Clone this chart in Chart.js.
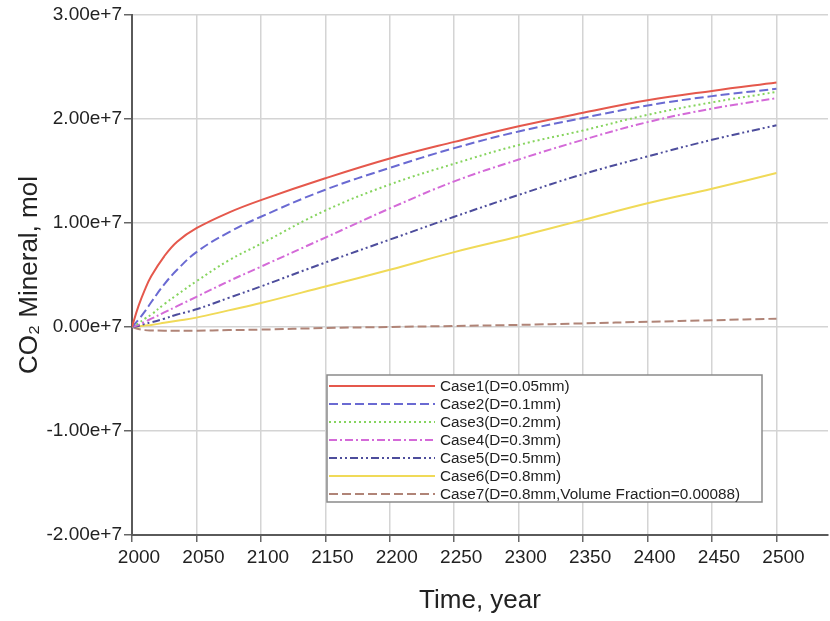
<!DOCTYPE html>
<html lang="en">
<head>
  <meta charset="UTF-8">
  <title>CO2 Mineral</title>
  <script src="https://cdn.jsdelivr.net/npm/chart.js"></script>
  <style>
    html, body { margin: 0; padding: 0; background: #fff; }
    #wrap { width: 830px; height: 621px; }
  </style>
</head>
<body>
<div id="wrap"><canvas id="mineralChart" width="830" height="621"></canvas></div>
<script>
  // years sampled along each curve
  const years = [2000, 2005, 2010, 2015, 2025, 2035, 2050, 2075, 2100, 2150, 2200, 2250, 2300, 2350, 2400, 2450, 2500];

  // values in units of 1e7 mol
  const case1 = [0, 0.20, 0.36, 0.49, 0.68, 0.82, 0.95, 1.10, 1.22, 1.43, 1.62, 1.78, 1.93, 2.06, 2.18, 2.27, 2.35];
  const case2 = [0, 0.07, 0.15, 0.24, 0.41, 0.55, 0.72, 0.91, 1.06, 1.32, 1.53, 1.72, 1.88, 2.01, 2.13, 2.22, 2.29];
  const case3 = [0, 0.035, 0.08, 0.12, 0.22, 0.31, 0.44, 0.64, 0.80, 1.12, 1.37, 1.57, 1.75, 1.89, 2.04, 2.16, 2.26];
  const case4 = [0, 0.02, 0.05, 0.08, 0.14, 0.20, 0.29, 0.44, 0.58, 0.86, 1.14, 1.40, 1.61, 1.80, 1.97, 2.10, 2.20];
  const case5 = [0, 0.01, 0.03, 0.045, 0.08, 0.12, 0.17, 0.28, 0.39, 0.62, 0.84, 1.06, 1.27, 1.47, 1.64, 1.80, 1.94];
  const case6 = [0, 0.005, 0.015, 0.02, 0.04, 0.06, 0.09, 0.16, 0.23, 0.39, 0.55, 0.72, 0.87, 1.03, 1.19, 1.33, 1.48];
  const case7 = [0, -0.02, -0.03, -0.033, -0.035, -0.035, -0.035, -0.03, -0.025, -0.01, 0, 0.01, 0.02, 0.035, 0.05, 0.065, 0.08];

  const labels = [
    'Case1(D=0.05mm)',
    'Case2(D=0.1mm)',
    'Case3(D=0.2mm)',
    'Case4(D=0.3mm)',
    'Case5(D=0.5mm)',
    'Case6(D=0.8mm)',
    'Case7(D=0.8mm,Volume Fraction=0.00088)'
  ];
  const xTicks = [2000, 2050, 2100, 2150, 2200, 2250, 2300, 2350, 2400, 2450, 2500];
  const yTicks = [-2, -1, 0, 1, 2, 3];

  function toPoints(vals) {
    return vals.map((v, i) => ({ x: years[i], y: v * 1e7 }));
  }

  const styles = [
    { color: '#e5584c', dash: [] },
    { color: '#6a6ad2', dash: [9, 4] },
    { color: '#86d45e', dash: [2, 3] },
    { color: '#d46ad8', dash: [8, 3, 2, 3] },
    { color: '#4d4d9c', dash: [8, 3, 2, 3, 2, 3] },
    { color: '#f0da58', dash: [] },
    { color: '#b08477', dash: [9, 4] }
  ];

  const series = [case1, case2, case3, case4, case5, case6, case7];
  const datasets = series.map((vals, i) => ({
    label: labels[i],
    data: toPoints(vals),
    borderColor: styles[i].color,
    borderDash: styles[i].dash,
    borderWidth: 2,
    pointRadius: 0,
    fill: false,
    tension: 0.4
  }));

  const font = '"Liberation Sans", Arial, sans-serif';

  // legend box drawn inside the plot
  const boxLegend = {
    id: 'boxLegend',
    afterDatasetsDraw(chart) {
      const ctx = chart.ctx;
      const x0 = 327, y0 = 375, w = 435, h = 127;
      ctx.save();
      ctx.fillStyle = '#fff';
      ctx.fillRect(x0, y0, w, h);
      ctx.strokeStyle = '#8a8a8a';
      ctx.lineWidth = 1.5;
      ctx.strokeRect(x0, y0, w, h);
      ctx.font = '15.3px ' + font;
      ctx.textBaseline = 'middle';
      chart.data.datasets.forEach((ds, i) => {
        const y = 386 + i * 18;
        ctx.strokeStyle = ds.borderColor;
        ctx.lineWidth = 2;
        ctx.setLineDash(ds.borderDash);
        ctx.beginPath();
        ctx.moveTo(329, y);
        ctx.lineTo(435, y);
        ctx.stroke();
        ctx.setLineDash([]);
        ctx.fillStyle = '#222';
        ctx.fillText(ds.label, 440, y + 1);
      });
      ctx.restore();
    }
  };

  const ctx = document.getElementById('mineralChart').getContext('2d');
  new Chart(ctx, {
    type: 'line',
    data: { datasets: datasets },
    options: {
      responsive: false,
      animation: false,
      layout: { padding: { top: 15, right: 2, left: 0, bottom: 0 } },
      plugins: { legend: { display: false }, tooltip: { enabled: false } },
      scales: {
        x: {
          type: 'linear',
          min: 2000,
          max: 2540,
          afterBuildTicks: (scale) => {
            scale.ticks = xTicks.map(v => ({ value: v }));
          },
          afterFit: (scale) => { scale.height = 86; },
          ticks: {
            color: '#222',
            padding: 4,
            labelOffset: 7,
            autoSkip: false,
            maxRotation: 0,
            font: { family: font, size: 19 },
            callback: (v) => String(v)
          },
          grid: { color: '#d4d4d4', lineWidth: 1.5, tickLength: 7, tickColor: '#666' },
          border: { color: '#5a5a5a', width: 2 },
          title: {
            display: true,
            text: 'Time, year',
            color: '#222',
            font: { family: font, size: 26 },
            padding: { top: 0, bottom: 5 }
          }
        },
        y: {
          min: -2e7,
          max: 3e7,
          afterBuildTicks: (scale) => {
            scale.ticks = yTicks.map(v => ({ value: v * 1e7 }));
          },
          afterFit: (scale) => { scale.width = 132; },
          ticks: {
            color: '#222',
            padding: 2,
            font: { family: font, size: 19 },
            callback: (v) => (v / 1e7).toFixed(2) + 'e+7'
          },
          grid: { color: '#d4d4d4', lineWidth: 1.5, tickLength: 8, tickColor: '#666' },
          border: { color: '#5a5a5a', width: 2 },
          title: {
            display: true,
            text: 'CO₂ Mineral, mol',
            color: '#222',
            font: { family: font, size: 26 },
            padding: { top: 14, bottom: 0 }
          }
        }
      }
    },
    plugins: [boxLegend]
  });
</script>
</body>
</html>
